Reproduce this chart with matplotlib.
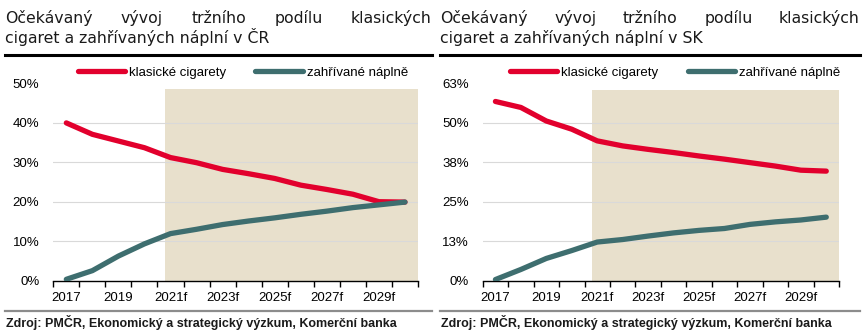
import matplotlib
matplotlib.use('Agg')
import matplotlib.pyplot as plt
from matplotlib.lines import Line2D

plt.rcParams['font.family'] = ['Liberation Sans', 'DejaVu Sans']

years = ['2017', '2018', '2019', '2020', '2021f', '2022f', '2023f', '2024f',
         '2025f', '2026f', '2027f', '2028f', '2029f', '2030f']

# CR
cz_klasicke = [40.0, 37.1, 35.4, 33.7, 31.2, 29.9, 28.2, 27.1, 25.9, 24.2, 23.1, 21.9, 20.0, 19.9]
cz_zahrivane = [0.3, 2.5, 6.2, 9.3, 11.9, 13.0, 14.2, 15.1, 15.9, 16.8, 17.6, 18.5, 19.2, 19.9]
# SK
sk_klasicke = [56.8, 54.9, 50.6, 48.0, 44.3, 42.7, 41.6, 40.6, 39.5, 38.5, 37.4, 36.3, 35.0, 34.7]
sk_zahrivane = [0.3, 3.5, 7.0, 9.5, 12.2, 13.0, 14.1, 15.1, 15.9, 16.5, 17.8, 18.6, 19.2, 20.1]

cz_yticks = [0, 10, 20, 30, 40, 50]
cz_ylabels = ['0%', '10%', '20%', '30%', '40%', '50%']
sk_yticks = [0, 12.5, 25, 37.5, 50, 62.5]
sk_ylabels = ['0%', '13%', '25%', '38%', '50%', '63%']

title1 = 'Očekávaný vývoj tržního podílu klasických'
cz_title2 = 'cigaret a zahřívaných náplní v ČR'
sk_title2 = 'cigaret a zahřívaných náplní v SK'
source = 'Zdroj: PMČR, Ekonomický a strategický výzkum, Komerční banka'

RED = '#E2002D'
TEAL = '#3E6E6F'
SHADE = '#E8E0CC'

W, H = 865, 335
fig = plt.figure(figsize=(W / 100, H / 100), dpi=100)


def fx(px):
    return px / W


def fy(py):
    return 1 - py / H


def justified(words, x0, x1, y, **kw):
    # spread the words of one line over x0..x1 like the justified title
    r = fig.canvas.get_renderer()
    texts = [fig.text(0, fy(y), w, va='baseline', ha='left', **kw) for w in words]
    widths = [t.get_window_extent(r).width for t in texts]
    gap = (x1 - x0 - sum(widths)) / (len(words) - 1)
    x = x0
    for t, w in zip(texts, widths):
        t.set_x(fx(x))
        x += w + gap


def panel(x0, x1, ax_left, ax_right, klas, zahr, yticks, ylabels, title2, shade_top, leg_x):
    tfont = dict(fontsize=11.3, color='#1a1a1a', family='DejaVu Sans')
    justified(title1.split(), x0, x1, 23, **tfont)
    fig.text(fx(x0), fy(43), title2, va='baseline', ha='left', **tfont)
    fig.add_artist(Line2D([fx(x0), fx(x1)], [fy(55), fy(55)], color='black', lw=2.2))
    fig.add_artist(Line2D([fx(x0), fx(x1)], [fy(310.5), fy(310.5)], color='#8c8c8c', lw=1.6))
    fig.text(fx(x0 + 1), fy(322), source, fontsize=9, va='center', ha='left',
             color='#1a1a1a', fontweight='bold')

    bottom, top = 280.5, 83.5
    ax = fig.add_axes([fx(ax_left), fy(bottom), fx(ax_right - ax_left), (bottom - top) / H])
    x = list(range(len(years)))
    ax.axvspan(3.8, 13.5, ymin=0, ymax=shade_top, color=SHADE, lw=0, zorder=0)
    for v in yticks[1:-1]:
        ax.axhline(v, color='#d9d9d9', lw=0.8, zorder=0.5)
    ax.plot(x, klas, color=RED, lw=3.8, solid_capstyle='round', label='klasické cigarety', zorder=3)
    ax.plot(x, zahr, color=TEAL, lw=3.8, solid_capstyle='round', label='zahřívané náplně', zorder=3)
    ax.set_xlim(-0.5, 13.5)
    ax.set_ylim(yticks[0], yticks[-1])
    for s in ['top', 'right', 'left']:
        ax.spines[s].set_visible(False)
    ax.spines['bottom'].set_linewidth(1.0)
    ax.set_yticks(yticks)
    ax.set_yticklabels(ylabels, fontsize=9.5)
    ax.tick_params(axis='y', length=0, pad=10)
    ax.set_xticks([i - 0.5 for i in range(len(years) + 1)])
    ax.set_xticklabels([])
    ax.tick_params(axis='x', which='major', length=4.5, width=1.0, direction='out')
    ax.set_xticks(x[::2], minor=True)
    ax.set_xticklabels(years[::2], minor=True, fontsize=9.5)
    ax.tick_params(axis='x', which='minor', length=0, pad=8)
    ax.patch.set_alpha(0)
    ax.legend(loc='center', bbox_to_anchor=(leg_x, 1.055), ncol=2, frameon=False,
              fontsize=9.5, handlelength=3.6, handletextpad=0.3, columnspacing=2.2,
              borderpad=0, borderaxespad=0)
    return ax


panel(5, 432, 53.3, 418, cz_klasicke, cz_zahrivane, cz_yticks, cz_ylabels, cz_title2, 0.97, 0.52)
panel(440, 860, 482.7, 839, sk_klasicke, sk_zahrivane, sk_yticks, sk_ylabels, sk_title2, 0.966, 0.54)

fig.savefig('out.png', dpi=100)
